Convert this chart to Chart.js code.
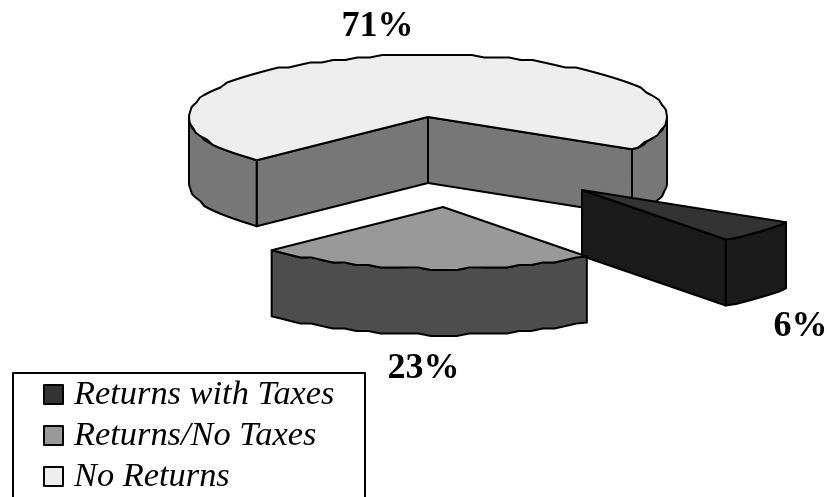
<!DOCTYPE html>
<html>
<head>
<meta charset="utf-8">
<title>Returns</title>
<script src="https://cdn.jsdelivr.net/npm/chart.js"></script>
<style>
html, body { margin: 0; padding: 0; background: #fff; overflow: hidden; }
canvas { display: block; }
</style>
</head>
<body>
<canvas id="pie" width="827" height="497"></canvas>
<script>
const categories = ['Returns with Taxes', 'Returns/No Taxes', 'No Returns'];
const shares = [6, 23, 71];

const topColors = ['#333333', '#999999', '#eeeeee'];
const wallColors = ['#1a1a1a', '#4d4d4d', '#777777'];

// where each slice is pulled out to, and the fake 3d look
const explodeX = [154, 15, 0];
const explodeY = [73, 90, 0];
const drawOrder = [2, 0, 1];
const TILT = 0.2594;
const DEPTH = 66;
const ROUGH = 2.5; // the rim in the scan is a bit wobbly, not smooth
const CHORD = 13;
const labelX = [800.5, 423.5, 377.5];
const labelY = [336, 378, 36];

const LINE = '#000';

function strokeFill(ctx, fill) {
    ctx.fillStyle = fill;
    ctx.fill();
    ctx.stroke();
}

// rim outline from one angle to another, short chords snapped to a grid
function rimPoints(arc, from, to) {
    const pts = [];
    const steps = Math.ceil((to - from) * arc.outerRadius / CHORD);
    for (let s = 0; s <= steps; s++) {
        const a = from + (to - from) * s / steps;
        let x = arc.x + Math.cos(a) * arc.outerRadius;
        let y = arc.y + Math.sin(a) * arc.outerRadius * TILT;
        if (s > 0 && s < steps) y = Math.round(y / ROUGH) * ROUGH;
        pts.push([x, y]);
    }
    return pts;
}

// one flat cut side, from the centre out to the rim
function radialFace(ctx, arc, angle, fill) {
    const ex = arc.x + Math.cos(angle) * arc.outerRadius;
    const ey = arc.y + Math.sin(angle) * arc.outerRadius * TILT;
    ctx.beginPath();
    ctx.moveTo(arc.x, arc.y);
    ctx.lineTo(ex, ey);
    ctx.lineTo(ex, ey + DEPTH);
    ctx.lineTo(arc.x, arc.y + DEPTH);
    ctx.closePath();
    strokeFill(ctx, fill);
}

// the curved rim, only the part that faces the viewer
function rimFace(ctx, arc, fill) {
    for (let n = 0; n < 2; n++) {
        const from = Math.max(arc.startAngle, n * 2 * Math.PI);
        const to = Math.min(arc.endAngle, n * 2 * Math.PI + Math.PI);
        if (to <= from) continue;
        const pts = rimPoints(arc, from, to);
        ctx.beginPath();
        pts.forEach(p => ctx.lineTo(p[0], p[1]));
        pts.slice().reverse().forEach(p => ctx.lineTo(p[0], p[1] + DEPTH));
        ctx.closePath();
        strokeFill(ctx, fill);
    }
}

const pie3d = {
    id: 'pie3d',
    beforeDatasetsDraw(chart) {
        const ctx = chart.ctx;
        const arcs = chart.getDatasetMeta(0).data;
        ctx.lineWidth = 2;
        ctx.strokeStyle = LINE;
        ctx.lineJoin = 'round';
        drawOrder.forEach(i => {
            const arc = arcs[i];
            ctx.save();
            ctx.translate(explodeX[i], explodeY[i]);
            if (Math.cos(arc.startAngle) < 0) radialFace(ctx, arc, arc.startAngle, wallColors[i]);
            if (Math.cos(arc.endAngle) > 0) radialFace(ctx, arc, arc.endAngle, wallColors[i]);
            rimFace(ctx, arc, wallColors[i]);

            // the top is the library's own arc, squashed
            ctx.save();
            ctx.translate(0, arc.y);
            ctx.scale(1, TILT);
            ctx.translate(0, -arc.y);
            arc.draw(ctx);
            ctx.restore();

            ctx.lineWidth = 2;
            ctx.strokeStyle = LINE;
            ctx.beginPath();
            ctx.moveTo(arc.x, arc.y);
            rimPoints(arc, arc.startAngle, arc.endAngle).forEach(p => ctx.lineTo(p[0], p[1]));
            ctx.closePath();
            ctx.stroke();
            ctx.restore();
        });
        return false;
    },
    afterDraw(chart) {
        const ctx = chart.ctx;
        ctx.save();
        ctx.fillStyle = '#000';

        ctx.font = 'bold 36px "Liberation Serif"';
        ctx.textAlign = 'center';
        ctx.textBaseline = 'alphabetic';
        shares.forEach((v, i) => ctx.fillText(v + '%', labelX[i], labelY[i]));

        // legend box runs off the bottom of the picture
        ctx.strokeStyle = '#000';
        ctx.lineWidth = 2;
        ctx.beginPath();
        ctx.moveTo(13, 500);
        ctx.lineTo(13, 373);
        ctx.lineTo(365, 373);
        ctx.lineTo(365, 500);
        ctx.stroke();

        ctx.font = 'italic 34.4px "Liberation Serif"';
        ctx.textAlign = 'left';
        ctx.textBaseline = 'middle';
        categories.forEach((name, i) => {
            const y = 395 + i * 41;
            ctx.fillStyle = topColors[i];
            ctx.fillRect(44, y - 10, 19, 19);
            ctx.strokeRect(44, y - 10, 19, 19);
            ctx.fillStyle = '#000';
            ctx.fillText(name, 74, y);
        });
        ctx.restore();
    }
};

new Chart(document.getElementById('pie'), {
    type: 'pie',
    data: {
        labels: categories,
        datasets: [{ data: shares, backgroundColor: topColors, borderWidth: 0 }]
    },
    options: {
        responsive: false,
        animation: false,
        rotation: 121.4,
        radius: 239,
        layout: { padding: { left: 29, right: 0, top: 0, bottom: 263 } },
        plugins: { legend: { display: false }, tooltip: { enabled: false } }
    },
    plugins: [pie3d]
});
</script>
</body>
</html>
